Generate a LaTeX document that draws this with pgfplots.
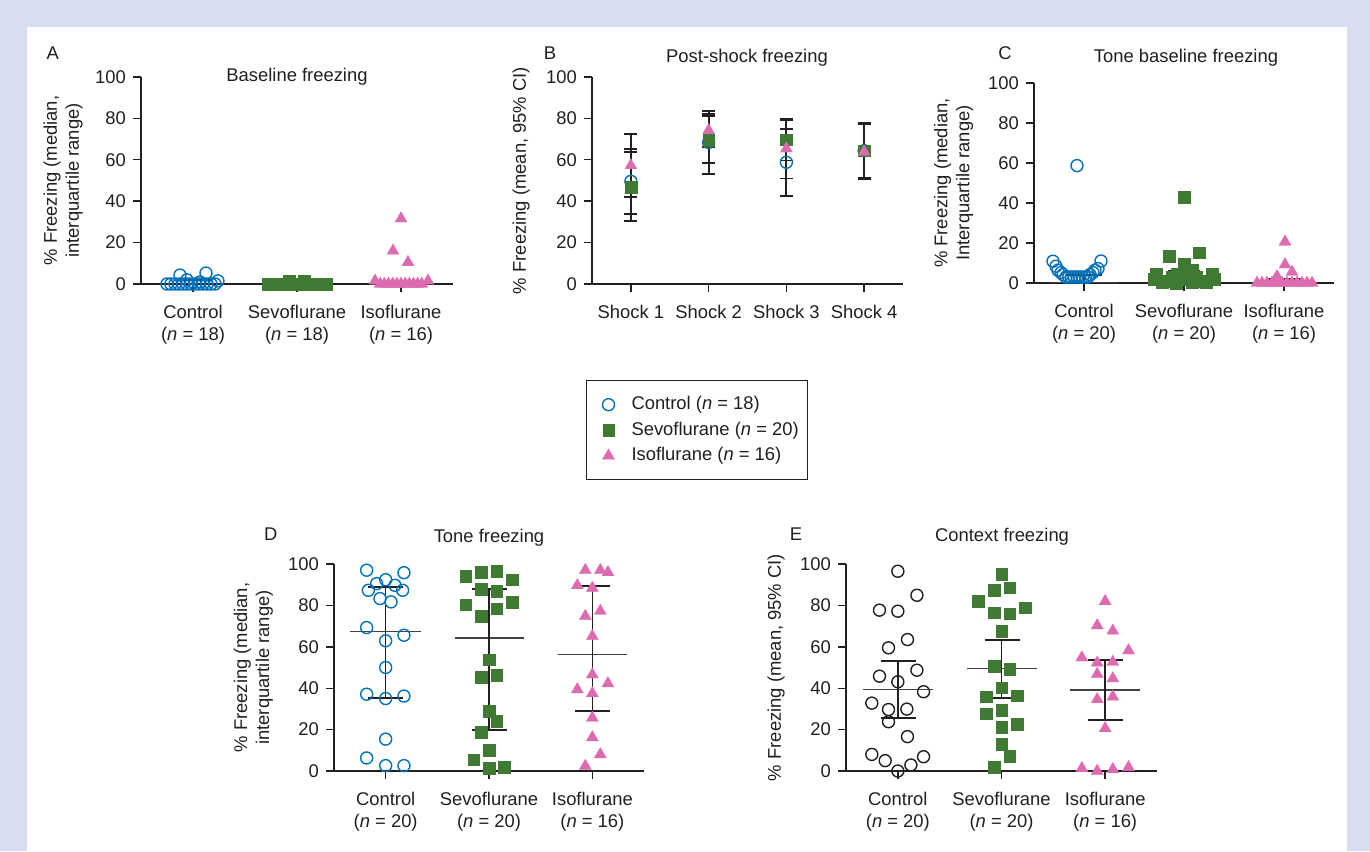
\documentclass[border=0pt]{standalone}
\usepackage{fontspec}
\setmainfont{Liberation Sans}
\usepackage{pgfplots}
\pgfplotsset{compat=1.18}
\definecolor{bglav}{RGB}{214,222,239}
\definecolor{cblue}{RGB}{0,114,189}
\definecolor{cgreen}{RGB}{62,122,50}
\definecolor{cpink}{RGB}{222,107,175}
\definecolor{ctext}{RGB}{35,31,32}
\newcommand{\fs}{\fontsize{9.2}{11}\selectfont}
\pgfplotsset{
  panel/.style={
    scale only axis, anchor=south west, clip=false,
    axis x line*=bottom, axis y line*=left,
    ymin=0, ymax=100, ytick={0,20,40,60,80,100},
    xmin=0.5, xmax=3.5, xtick={1,2,3},
    tick align=outside, major tick length=4pt,
    axis line style={ctext, line width=0.7pt},
    tick style={ctext, line width=0.7pt},
    tick label style={font=\fs, text=ctext},
    /pgf/number format/assume math mode=true,
    xticklabel style={align=center, yshift=-3pt},
    every axis y label/.style={rotate=90, anchor=center, align=center, font=\fs, text=ctext},
  },
  limg/.style={legend image code/.code={\draw[##1] plot coordinates {(0pt,0pt)}; \path[draw=none] (-8.5pt,0pt) (9.5pt,0pt);}},
  ctl/.style={only marks, mark=o, mark size=3.0pt, mark options={draw=cblue, line width=0.7pt}, limg},
  ctlk/.style={only marks, mark=o, mark size=3.0pt, mark options={draw=ctext, line width=0.7pt}},
  sev/.style={only marks, mark=square*, mark size=2.9pt, mark options={draw=cgreen, fill=cgreen, line width=0.1pt}, limg},
  iso/.style={only marks, mark=triangle*, mark size=3.5pt, mark options={draw=cpink, fill=cpink, line width=0.1pt}, limg},
  medl/.style={forget plot, mark=none, ctext!85, line width=0.7pt},
  capl/.style={forget plot, mark=none, ctext, line width=1.1pt},
  vl/.style={forget plot, mark=none, ctext, line width=0.7pt},
}
\begin{document}
\begin{tikzpicture}
\fill[bglav] (0,0) rectangle (685pt,425.5pt);
\fill[white] (13.5pt,0) rectangle (673.5pt,412pt);

% ---------------- Panel A ----------------
\begin{axis}[panel, at={(70.5pt,283.5pt)}, width=156pt, height=103.5pt,
  xticklabels={{Control\\(\textit{n} = 18)},{Sevoflurane\\(\textit{n} = 18)},{Isoflurane\\(\textit{n} = 16)}},
  ylabel={\% Freezing (median,\\interquartile range)},
  ylabel style={at={(axis description cs:-0.25,0.5)}}]
\addplot[ctl] coordinates {(0.750,0) (0.788,0) (0.827,0) (0.865,0) (0.904,0) (0.942,0) (0.981,0) (1.019,0) (1.058,0) (1.096,0) (1.135,0) (1.173,0) (1.212,0) (0.875,4.3) (1.125,5.3) (1.24,1.5) (0.942,2) (1.067,1)};
\addplot[sev] coordinates {(1.721,0) (1.758,0) (1.795,0) (1.833,0) (1.870,0) (1.907,0) (1.944,0) (1.981,0) (2.019,0) (2.056,0) (2.093,0) (2.130,0) (2.167,0) (2.205,0) (2.242,0) (2.279,0) (1.923,1.5) (2.067,1.5)};
\addplot[iso] coordinates {(3,31.6) (2.923,16) (3.067,10.5) (2.75,1.5) (3.26,1.5) (2.8,0) (2.84,0) (2.88,0) (2.92,0) (2.96,0) (3.0,0) (3.04,0) (3.08,0) (3.12,0) (3.16,0) (3.2,0)};
\addplot[capl] coordinates {(0.83,2) (1.17,2)};
\addplot[vl] coordinates {(1,0) (1,2)};
\addplot[capl] coordinates {(2.83,1) (3.17,1)};
\addplot[vl] coordinates {(3,0) (3,1)};
\end{axis}

% ---------------- Panel B ----------------
\begin{axis}[panel, at={(296pt,283.5pt)}, width=155.5pt, height=103.5pt,
  xmax=4.5, xtick={1,2,3,4},
  xticklabels={Shock 1,Shock 2,Shock 3,Shock 4},
  ylabel={\% Freezing (mean, 95\% CI)},
  ylabel style={at={(axis description cs:-0.228,0.5)}},
  legend style={at={(-0.0193,-0.4638)}, anchor=north west, draw=ctext, line width=0.5pt,
    font=\fs, text=ctext, inner xsep=2.5pt, inner ysep=6pt, row sep=0.6pt},
  legend cell align=left]
\addplot[forget plot, draw=none, mark=none,
  error bars/.cd, y dir=both, y explicit,
  error bar style={draw=ctext, line width=0.9pt},
  error mark options={rotate=90, mark size=3.3pt, line width=0.9pt, draw=ctext}]
  coordinates {
  (1,49.6) += (0,15.8) -= (0,15.9)
  (1,46.9) += (0,16.7) -= (0,16.5)
  (1,57.3) += (0,15.3) -= (0,15.4)
  (2,68.4) += (0,15.0) -= (0,15.1)
  (2,69.4) += (0,11.9) -= (0,10.9)
  (2,74.2) += (0,8.1) -= (0,8.2)
  (3,58.8) += (0,16.1) -= (0,16.1)
  (3,69.7) += (0,10.2) -= (0,10.0)
  (3,65.4) += (0,14.0) -= (0,14.4)
  (4,64.4) += (0,13.4) -= (0,13.4)
  (4,64.5) += (0,13.0) -= (0,13.2)
  (4,63.8) += (0,13.5) -= (0,13.0)
  };
\addplot[ctl] coordinates {(1,49.6) (2,68.4) (3,58.8) (4,64.4)};
\addlegendentry{Control (\textit{n} = 18)}
\addplot[sev] coordinates {(1,46.9) (2,69.4) (3,69.7) (4,64.5)};
\addlegendentry{Sevoflurane (\textit{n} = 20)}
\addplot[iso] coordinates {(1,57.3) (2,74.2) (3,65.4) (4,63.8)};
\addlegendentry{Isoflurane (\textit{n} = 16)}
\end{axis}

% ---------------- Panel C ----------------
\begin{axis}[panel, at={(517pt,284pt)}, width=150pt, height=100pt,
  xticklabels={{Control\\(\textit{n} = 20)},{Sevoflurane\\(\textit{n} = 20)},{Isoflurane\\(\textit{n} = 16)}},
  ylabel={\% Freezing (median,\\Interquartile range)},
  ylabel style={at={(axis description cs:-0.268,0.5)}}]
\addplot[ctl] coordinates {(0.69,10.9) (1.17,11) (0.72,8.4) (1.14,7.2) (0.74,6.4) (1.11,6.4) (0.77,5.2) (1.09,5.2) (0.79,4.2) (1.06,4.2) (0.82,3) (0.848,3) (0.875,3) (0.903,3) (0.93,3) (0.958,3) (0.985,3) (1.013,3) (1.04,3) (0.93,58.7)};
\addplot[sev] coordinates {(2,42.8) (1.85,13.5) (2.15,15.2) (2,9.7) (2.08,6.7) (1.72,4.3) (2.28,4.3) (1.93,4.3) (1.70,2) (2.30,2) (1.78,0.5) (1.85,1) (1.92,0) (2.0,2) (2.08,0.5) (2.15,1) (2.22,0.5) (1.88,3) (2.12,3) (2.04,4)};
\addplot[iso] coordinates {(3.01,20.6) (3.01,9.2) (3.08,5.5) (2.93,3.3) (2.73,0) (2.78,0) (2.83,0) (2.88,0) (2.93,0) (2.98,0) (3.03,0) (3.08,0) (3.13,0) (3.18,0) (3.23,0) (3.28,0)};
\addplot[medl] coordinates {(0.66,0.3) (1.34,0.3)};
\addplot[capl] coordinates {(0.83,4) (1.18,4)};
\addplot[vl] coordinates {(1,0) (1,4)};
\addplot[medl] coordinates {(1.67,2.5) (2.34,2.5)};
\addplot[capl] coordinates {(1.84,6) (2.16,6)};
\addplot[capl] coordinates {(1.84,0) (2.16,0)};
\addplot[vl] coordinates {(2,0) (2,6)};
\addplot[medl] coordinates {(2.66,0.3) (3.34,0.3)};
\addplot[capl] coordinates {(2.84,2) (3.18,2)};
\addplot[vl] coordinates {(3,0) (3,2)};
\end{axis}

% ---------------- Panel D ----------------
\begin{axis}[panel, at={(167pt,40pt)}, width=155pt, height=103.5pt,
  xticklabels={{Control\\(\textit{n} = 20)},{Sevoflurane\\(\textit{n} = 20)},{Isoflurane\\(\textit{n} = 16)}},
  ylabel={\% Freezing (median,\\interquartile range)},
  ylabel style={at={(axis description cs:-0.26,0.5)}}]
\addplot[ctl] coordinates {(0.816,97) (1.177,95.8) (1,92.4) (0.913,90.5) (1.090,89.7) (0.833,87.3) (1.164,87.3) (0.945,83.3) (1.052,81.7) (0.816,69.3) (1.177,65.6) (1,62.9) (1,50) (0.816,37.1) (1,35) (1.177,36.2) (1,15.4) (0.816,6.3) (1,2.6) (1.177,2.6)};
\addplot[sev] coordinates {(1.775,94.2) (1.923,96.1) (2.074,96.5) (2.225,92.4) (1.923,87.8) (2.074,87) (1.775,80.4) (2.225,81.5) (2.074,78.5) (1.923,74.8) (2,53.9) (1.923,45.5) (2.074,46.3) (2,28.8) (2.074,24) (1.923,18.8) (2,10.1) (1.849,5.6) (2,1.3) (2.148,1.8)};
\addplot[iso] coordinates {(2.932,97) (3.077,97) (3.151,96) (2.855,89.7) (3,88.4) (2.932,74.8) (3.077,77.3) (3,65.1) (3,46.6) (2.855,39.4) (3.151,42.3) (3,37.5) (3,25.7) (3,16.2) (3.077,8) (2.932,2.4)};
\addplot[medl] coordinates {(0.659,67.5) (1.341,67.5)};
\addplot[capl] coordinates {(0.83,35.3) (1.17,35.3)};
\addplot[capl] coordinates {(0.83,88.9) (1.17,88.9)};
\addplot[vl] coordinates {(1,35.3) (1,88.9)};
\addplot[medl] coordinates {(1.67,64.3) (2.34,64.3)};
\addplot[capl] coordinates {(1.835,19.8) (2.17,19.8)};
\addplot[capl] coordinates {(1.835,87.8) (2.17,87.8)};
\addplot[vl] coordinates {(2,19.8) (2,87.8)};
\addplot[medl] coordinates {(2.67,56.4) (3.335,56.4)};
\addplot[capl] coordinates {(2.83,28.9) (3.17,28.9)};
\addplot[capl] coordinates {(2.83,89.4) (3.17,89.4)};
\addplot[vl] coordinates {(3,28.9) (3,89.4)};
\end{axis}

% ---------------- Panel E ----------------
\begin{axis}[panel, at={(423pt,40pt)}, width=155.5pt, height=103.5pt,
  xticklabels={{Control\\(\textit{n} = 20)},{Sevoflurane\\(\textit{n} = 20)},{Isoflurane\\(\textit{n} = 16)}},
  ylabel={\% Freezing (mean, 95\% CI)},
  ylabel style={at={(axis description cs:-0.225,0.5)}}]
\addplot[ctlk] coordinates {(1,96.5) (1.184,84.9) (0.823,77.7) (1,77.2) (1.093,63.5) (0.910,59.5) (1.184,48.7) (0.823,45.8) (1,43.1) (1.248,38.3) (0.749,32.8) (0.910,29.7) (1.087,29.9) (0.910,23.8) (1.093,16.6) (0.749,8) (1.248,6.9) (0.878,5) (1.126,2.9) (1,0)};
\addplot[sev] coordinates {(2,95) (1.926,87.3) (2.077,88.6) (1.775,82.2) (2.229,78.9) (1.926,76.5) (2.077,76) (2,67.5) (1.926,50.8) (2.077,49.2) (2,40.2) (1.849,35.9) (2.151,36.5) (1.849,27.8) (2,29.4) (2.151,22.7) (2,21.1) (2,12.9) (2.077,7.2) (1.926,1.8)};
\addplot[iso] coordinates {(3,82) (2.923,70.3) (3.074,67.7) (3.225,58.2) (2.775,54.8) (2.923,52.3) (3.074,52.7) (2.923,46.8) (3.074,44.7) (2.923,34.6) (3.074,35.9) (3,20.6) (2.775,1.3) (2.923,0) (3.074,0.8) (3.225,1.8)};
\addplot[medl] coordinates {(0.668,39.5) (1.338,39.5)};
\addplot[capl] coordinates {(0.836,25.7) (1.174,25.7)};
\addplot[capl] coordinates {(0.836,53.2) (1.174,53.2)};
\addplot[vl] coordinates {(1,25.7) (1,53.2)};
\addplot[medl] coordinates {(1.668,49.4) (2.338,49.4)};
\addplot[capl] coordinates {(1.836,35.4) (2.174,35.4)};
\addplot[capl] coordinates {(1.836,63.3) (2.174,63.3)};
\addplot[vl] coordinates {(2,35.4) (2,63.3)};
\addplot[medl] coordinates {(2.662,39.1) (3.332,39.1)};
\addplot[capl] coordinates {(2.83,24.8) (3.17,24.8)};
\addplot[capl] coordinates {(2.83,53.7) (3.17,53.7)};
\addplot[vl] coordinates {(3,24.8) (3,53.7)};
\end{axis}

% ---------------- Titles and panel letters ----------------
\begin{scope}[every node/.style={font=\fs, text=ctext, anchor=base, inner sep=0pt}]
\node at (148.5pt,384.6pt) {Baseline freezing};
\node at (373.5pt,394.2pt) {Post-shock freezing};
\node at (593pt,394.2pt) {Tone baseline freezing};
\node at (244.5pt,154.2pt) {Tone freezing};
\node at (501pt,154.5pt) {Context freezing};
\node at (26.4pt,395.8pt) {A};
\node at (275pt,395.8pt) {B};
\node at (502.5pt,395.8pt) {C};
\node at (135.4pt,155pt) {D};
\node at (398pt,155pt) {E};
\end{scope}
\pgfresetboundingbox
\path[use as bounding box] (0,0) rectangle (685pt,425.5pt);
\end{tikzpicture}
\end{document}
